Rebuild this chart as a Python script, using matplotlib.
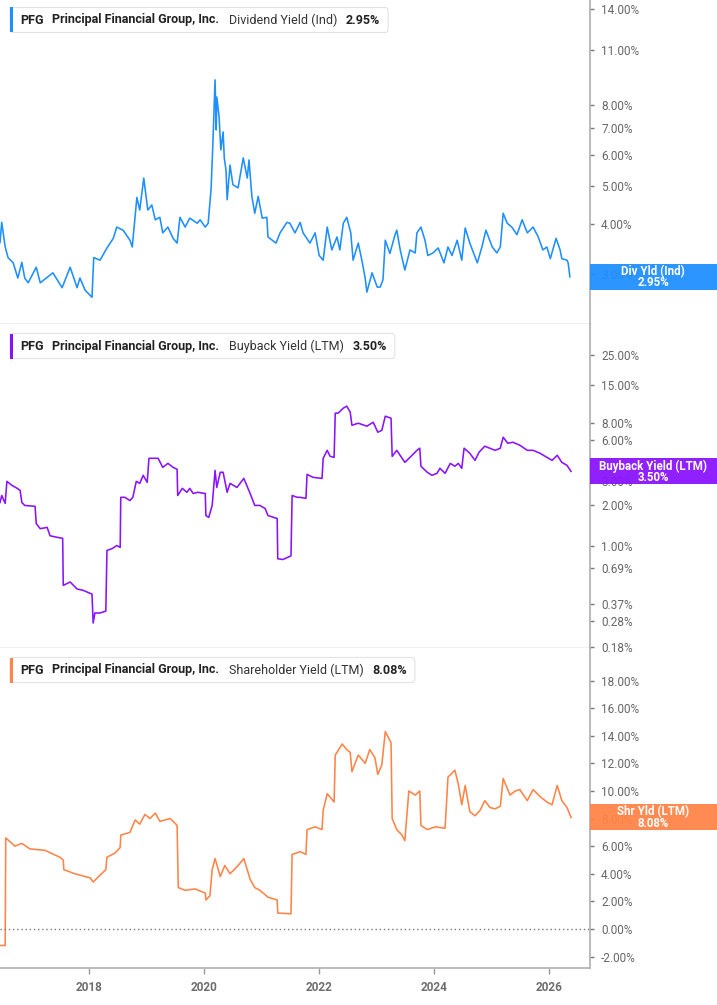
import matplotlib
matplotlib.use("Agg")
import matplotlib.pyplot as plt
from matplotlib.patches import Rectangle, FancyBboxPatch
from matplotlib.ticker import FixedLocator, FixedFormatter, NullLocator

plt.rcParams['font.family'] = ['Roboto', 'DejaVu Sans']

# ---------------- data (decimal year, percent) ----------------
div_years = [2016.45, 2016.48, 2016.54, 2016.59, 2016.68, 2016.76, 2016.83, 2016.88, 2016.94, 2017.08,
             2017.15, 2017.37, 2017.53, 2017.67, 2017.79, 2017.84, 2017.93, 2018.05, 2018.08, 2018.19,
             2018.31, 2018.42, 2018.48, 2018.59, 2018.71, 2018.75, 2018.83, 2018.88, 2018.94, 2018.95,
             2019.02, 2019.09, 2019.15, 2019.23, 2019.28, 2019.37, 2019.46, 2019.53, 2019.58, 2019.67,
             2019.75, 2019.88, 2019.93, 2020.02, 2020.07, 2020.12, 2020.15, 2020.19, 2020.21, 2020.22,
             2020.26, 2020.29, 2020.33, 2020.35, 2020.38, 2020.40, 2020.45, 2020.50, 2020.59, 2020.68,
             2020.75, 2020.78, 2020.83, 2020.88, 2020.94, 2021.01, 2021.09, 2021.11, 2021.25, 2021.32,
             2021.44, 2021.49, 2021.58, 2021.67, 2021.72, 2021.84, 2021.93, 2022.00, 2022.07, 2022.14,
             2022.22, 2022.31, 2022.36, 2022.42, 2022.48, 2022.55, 2022.59, 2022.68, 2022.75, 2022.80,
             2022.83, 2022.92, 2023.01, 2023.06, 2023.09, 2023.11, 2023.15, 2023.23, 2023.32, 2023.35,
             2023.41, 2023.49, 2023.58, 2023.67, 2023.70, 2023.77, 2023.84, 2023.89, 2023.98, 2024.07,
             2024.17, 2024.24, 2024.31, 2024.40, 2024.48, 2024.54, 2024.62, 2024.75, 2024.83, 2024.90,
             2025.01, 2025.09, 2025.15, 2025.20, 2025.27, 2025.35, 2025.44, 2025.53, 2025.62, 2025.72,
             2025.81, 2025.89, 2025.96, 2026.02, 2026.12, 2026.19, 2026.22, 2026.31, 2026.33, 2026.36]
div_vals = [3.60, 4.05, 3.51, 3.30, 3.20, 2.93, 3.21, 2.93, 2.85, 3.12,
            2.85, 3.02, 2.77, 3.12, 2.77, 2.93, 2.73, 2.62, 3.30, 3.25,
            3.49, 3.69, 3.94, 3.87, 3.65, 3.51, 4.68, 4.35, 5.10, 5.24,
            4.35, 4.48, 4.11, 4.17, 3.81, 3.94, 3.69, 3.59, 4.17, 3.94,
            4.15, 4.03, 4.11, 3.94, 4.03, 4.90, 6.28, 9.27, 6.93, 8.39,
            7.48, 6.17, 6.85, 5.89, 5.49, 4.62, 5.65, 5.04, 4.95, 5.89,
            5.24, 5.82, 4.71, 4.27, 4.71, 4.15, 4.17, 3.72, 3.59, 3.81,
            4.05, 4.03, 3.81, 4.05, 3.81, 3.59, 3.81, 3.34, 3.25, 3.94,
            3.45, 3.72, 3.45, 4.03, 4.17, 3.81, 3.25, 3.59, 3.21, 2.93,
            2.70, 3.02, 2.78, 2.78, 2.85, 2.90, 3.65, 3.38, 3.77, 3.87,
            3.45, 3.07, 3.45, 3.39, 3.81, 3.94, 3.65, 3.34, 3.39, 3.49,
            3.20, 3.51, 3.34, 3.65, 3.25, 3.92, 3.59, 3.20, 3.51, 3.87,
            3.51, 3.39, 3.51, 4.27, 4.03, 3.94, 3.77, 4.11, 3.81, 3.94,
            3.72, 3.45, 3.51, 3.28, 3.69, 3.45, 3.28, 3.25, 3.20, 2.95]

bb_years = [2016.45, 2016.48, 2016.54, 2016.57, 2016.66, 2016.75, 2016.80, 2016.83, 2016.88, 2017.06,
            2017.08, 2017.15, 2017.27, 2017.32, 2017.44, 2017.54, 2017.55, 2017.67, 2017.79, 2017.89,
            2018.05, 2018.07, 2018.10, 2018.19, 2018.29, 2018.31, 2018.40, 2018.48, 2018.54, 2018.55,
            2018.62, 2018.71, 2018.76, 2018.82, 2018.88, 2018.94, 2019.01, 2019.04, 2019.11, 2019.20,
            2019.28, 2019.37, 2019.46, 2019.53, 2019.54, 2019.62, 2019.70, 2019.75, 2019.81, 2019.89,
            2020.02, 2020.03, 2020.08, 2020.14, 2020.19, 2020.22, 2020.28, 2020.33, 2020.40, 2020.45,
            2020.57, 2020.69, 2020.80, 2020.88, 2020.97, 2021.06, 2021.11, 2021.27, 2021.28, 2021.37,
            2021.51, 2021.53, 2021.62, 2021.67, 2021.77, 2021.79, 2021.89, 2022.05, 2022.07, 2022.14,
            2022.19, 2022.26, 2022.28, 2022.33, 2022.42, 2022.48, 2022.54, 2022.57, 2022.68, 2022.83,
            2022.94, 2023.02, 2023.09, 2023.15, 2023.25, 2023.27, 2023.35, 2023.49, 2023.58, 2023.70,
            2023.75, 2023.77, 2023.88, 2023.96, 2024.05, 2024.10, 2024.19, 2024.28, 2024.36, 2024.42,
            2024.48, 2024.52, 2024.62, 2024.71, 2024.78, 2024.88, 2024.97, 2025.06, 2025.15, 2025.20,
            2025.28, 2025.37, 2025.49, 2025.62, 2025.72, 2025.84, 2025.96, 2026.05, 2026.14, 2026.22,
            2026.31, 2026.38]
bb_vals = [2.07, 2.33, 2.04, 2.96, 2.76, 2.63, 2.54, 2.07, 1.97, 1.94,
           1.45, 1.33, 1.36, 1.18, 1.15, 1.13, 0.51, 0.54, 0.48, 0.47,
           0.44, 0.27, 0.32, 0.32, 0.33, 0.92, 0.95, 1.00, 0.97, 2.26,
           2.26, 2.14, 2.26, 2.96, 2.86, 3.28, 2.91, 4.37, 4.37, 4.37,
           3.75, 4.01, 3.75, 3.63, 2.33, 2.63, 2.46, 2.63, 2.41, 2.46,
           2.41, 1.66, 1.61, 1.97, 3.56, 2.67, 3.45, 3.45, 2.46, 2.86,
           2.67, 3.11, 2.41, 1.97, 1.97, 1.87, 1.66, 1.58, 0.80, 0.79,
           0.84, 2.33, 2.26, 2.26, 2.22, 3.33, 3.17, 3.11, 4.37, 5.00,
           4.52, 4.44, 9.37, 9.37, 10.20, 10.55, 9.53, 7.64, 7.91, 7.52,
           8.04, 6.79, 7.02, 8.90, 8.61, 4.52, 5.00, 4.08, 4.44, 5.00,
           5.18, 3.82, 3.45, 3.28, 3.39, 3.69, 3.39, 4.01, 3.82, 4.01,
           3.69, 5.18, 4.76, 4.22, 4.84, 5.36, 5.18, 5.00, 5.18, 6.24,
           5.64, 5.73, 5.45, 5.00, 5.00, 4.76, 4.44, 4.22, 4.60, 4.08,
           3.88, 3.50]

sh_years = [2016.45, 2016.54, 2016.55, 2016.71, 2016.83, 2016.97, 2017.23, 2017.49, 2017.55, 2017.56,
            2017.75, 2018.02, 2018.07, 2018.19, 2018.29, 2018.31, 2018.45, 2018.54, 2018.55, 2018.71,
            2018.80, 2018.88, 2018.97, 2019.06, 2019.15, 2019.23, 2019.41, 2019.53, 2019.55, 2019.67,
            2019.84, 2020.02, 2020.03, 2020.10, 2020.14, 2020.19, 2020.28, 2020.36, 2020.45, 2020.57,
            2020.69, 2020.80, 2020.88, 2020.97, 2021.11, 2021.27, 2021.28, 2021.51, 2021.53, 2021.67,
            2021.77, 2021.79, 2021.93, 2022.05, 2022.07, 2022.14, 2022.26, 2022.28, 2022.40, 2022.48,
            2022.54, 2022.57, 2022.68, 2022.80, 2022.88, 2022.97, 2023.02, 2023.09, 2023.15, 2023.25,
            2023.27, 2023.35, 2023.44, 2023.49, 2023.56, 2023.67, 2023.75, 2023.77, 2023.88, 2024.02,
            2024.19, 2024.24, 2024.36, 2024.42, 2024.48, 2024.54, 2024.62, 2024.71, 2024.80, 2024.88,
            2024.97, 2025.06, 2025.15, 2025.20, 2025.32, 2025.41, 2025.49, 2025.62, 2025.72, 2025.84,
            2025.96, 2026.05, 2026.14, 2026.22, 2026.31, 2026.38]
sh_vals = [-1.2, -1.2, 6.6, 6.0, 6.2, 5.8, 5.7, 5.2, 5.0, 4.3,
           4.0, 3.7, 3.4, 3.9, 4.3, 5.2, 5.5, 5.9, 6.8, 7.0,
           7.9, 7.6, 8.3, 8.0, 8.4, 7.8, 8.0, 7.5, 3.0, 2.8,
           2.9, 2.6, 2.1, 2.4, 4.3, 5.1, 3.8, 4.6, 4.0, 4.5,
           5.1, 3.6, 3.0, 2.8, 2.3, 2.1, 1.15, 1.1, 5.4, 5.6,
           5.4, 7.2, 7.4, 7.2, 8.6, 9.8, 9.2, 12.6, 13.4, 13.0,
           12.8, 11.4, 12.6, 12.0, 13.0, 12.4, 11.2, 11.9, 14.3, 13.5,
           8.0, 7.2, 6.8, 6.4, 10.0, 9.7, 10.0, 7.5, 7.2, 7.4,
           7.3, 11.0, 11.5, 10.5, 9.0, 10.4, 8.5, 8.2, 8.6, 9.3,
           8.8, 8.7, 8.9, 10.9, 9.7, 10.0, 10.1, 9.3, 10.1, 9.6,
           9.2, 9.0, 10.4, 9.3, 8.8, 8.08]

div_ticks = [2.24, 3, 4, 5, 6, 7, 8, 11, 14]
bb_ticks = [0.18, 0.28, 0.37, 0.69, 1, 2, 3, 6, 8, 15, 25]
sh_ticks = [-2, 0, 2, 4, 6, 8, 10, 12, 14, 16, 18]
x_ticks = [2018, 2020, 2022, 2024, 2026]

company = "Principal Financial Group, Inc."
ticker = "PFG"
metrics = ["Dividend Yield (Ind)", "Buyback Yield (LTM)", "Shareholder Yield (LTM)"]
last_labels = ["2.95%", "3.50%", "8.08%"]
side_names = ["Div Yld (Ind)", "Buyback Yield (LTM)", "Shr Yld (LTM)"]
colors = ["#1e8fff", "#8a12ff", "#ff8447"]

# ---------------- figure ----------------
W, H = 717, 1005
fig = plt.figure(figsize=(W / 100, H / 100), dpi=100)


def fx(px):
    return px / W


def fy(py):
    return 1 - py / H


panels = [(0, 324), (324, 648), (648, 968)]
axes = []
for (top, bot) in panels:
    ax = fig.add_axes([0, fy(bot), fx(590), (bot - top) / H])
    axes.append(ax)

series = [(div_years, div_vals), (bb_years, bb_vals), (sh_years, sh_vals)]
ylims = [(2.243, 14.75), (0.177, 42.3), (-2.83, 20.36)]
tick_sets = [div_ticks, bb_ticks, sh_ticks]

for i, ax in enumerate(axes):
    xs, ys = series[i]
    ax.plot(xs, ys, color=colors[i], lw=1.15, solid_joinstyle='round')
    ax.set_xlim(2016.45, 2026.71)
    if i < 2:
        ax.set_yscale('log')
    ax.set_ylim(*ylims[i])
    ax.yaxis.tick_right()
    ax.yaxis.set_major_locator(FixedLocator(tick_sets[i]))
    ax.yaxis.set_major_formatter(FixedFormatter(["%.2f%%" % t for t in tick_sets[i]]))
    ax.yaxis.set_minor_locator(NullLocator())
    ax.tick_params(axis='y', which='major', direction='out', length=3, width=1,
                   color='#777777', labelsize=8.5, labelcolor='#666666', pad=5)
    for s in ['top', 'left']:
        ax.spines[s].set_visible(False)
    ax.spines['right'].set_color('#b5b5b5')
    ax.spines['right'].set_linewidth(1.3)
    ax.spines['bottom'].set_color('#b5b5b5')
    ax.spines['bottom'].set_linewidth(1.0)
    ax.set_facecolor('white')
    if i < 2:
        ax.set_xticks([])
    else:
        ax.set_xticks(x_ticks)
        ax.set_xticklabels([str(t) for t in x_ticks], fontweight='bold')
        ax.tick_params(axis='x', direction='out', length=4, width=1, color='#999999',
                       labelsize=8.5, labelcolor='#6e6e6e', pad=5)
        ax.spines['bottom'].set_linewidth(1.3)
        ax.axhline(0, color='#777777', lw=1.0, ls=(0, (1, 2)))

fig.canvas.draw()
renderer = fig.canvas.get_renderer()

# ---------------- headers ----------------
header_centers = [20, 346, 670]
for i in range(3):
    cy = header_centers[i]
    x = 20
    pieces = [(ticker, 'bold', '#222222'), (company, 'bold', '#222222'),
              (metrics[i], 'normal', '#333333'), (last_labels[i], 'bold', '#222222')]
    gaps = [9, 9, 9]
    for k, (txt, wt, col) in enumerate(pieces):
        t = fig.text(fx(x), fy(cy), txt, fontsize=9.0, fontweight=wt, color=col,
                     ha='left', va='center', zorder=5)
        bb = t.get_window_extent(renderer)
        x = x + bb.width
        if k < 3:
            x += gaps[k]
    right = x + 8
    box = FancyBboxPatch((fx(10), fy(cy + 12.5)), fx(right - 10), 25 / H,
                         boxstyle="round,pad=0,rounding_size=0.004",
                         transform=fig.transFigure, facecolor='white',
                         edgecolor='#e3e3e3', lw=0.8, zorder=4)
    fig.patches.append(box)
    bar = Rectangle((fx(10), fy(cy + 12.5)), fx(3), 25 / H, transform=fig.transFigure,
                    facecolor=colors[i], edgecolor='none', zorder=4.5)
    fig.patches.append(bar)

# ---------------- right-side value labels ----------------
for i, ax in enumerate(axes):
    xs, ys = series[i]
    ydisp = ax.transData.transform((xs[-1], ys[-1]))[1]
    cy = H - ydisp
    rect = Rectangle((fx(590), fy(cy + 13)), fx(717 - 590), 26 / H, transform=fig.transFigure,
                     facecolor=colors[i], edgecolor='none', alpha=0.94, zorder=6)
    fig.patches.append(rect)
    fig.text(fx(653), fy(cy - 5.5), side_names[i], fontsize=8.3, fontweight='bold',
             color='white', ha='center', va='center', zorder=7)
    fig.text(fx(653), fy(cy + 6), last_labels[i], fontsize=8.3, fontweight='bold',
             color='white', ha='center', va='center', zorder=7)

fig.savefig("out.png", dpi=100, facecolor='white')
